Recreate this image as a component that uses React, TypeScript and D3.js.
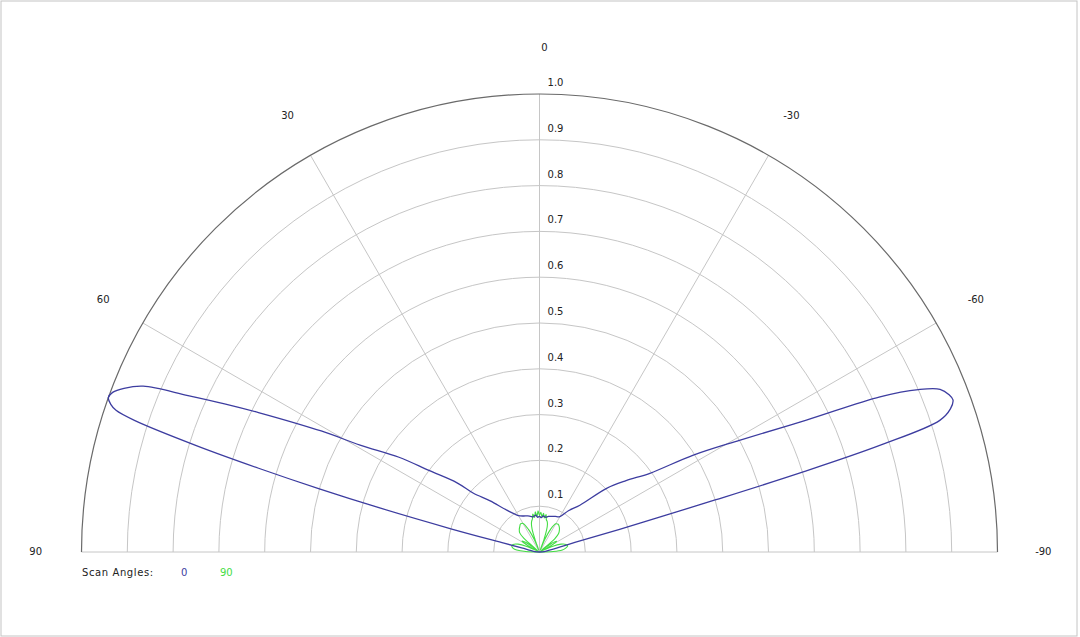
import * as d3 from "d3";
import React from "react";

// chart values
const ringValues = [0.1, 0.2, 0.3, 0.4, 0.5, 0.6, 0.7, 0.8, 0.9, 1.0];
const spokeAngles = [-60, -30, 0, 30, 60];
const angleLabels = [90, 60, 30, 0, -30, -60, -90];

// scan angle 0 (blue): angle in degrees (positive = left), normalised gain
const blueAngles = [90, 85, 80, 77, 76, 75.3, 74.6, 74, 73.4, 72.8, 72, 71.5, 71, 70.3, 69.5, 68.5, 67.3, 66, 64.8, 63.6, 61, 59.2, 56, 53.6, 50, 48.4, 44, 38, 30, 24, 18, 14, 10, 6, 3, 0,
    -3, -6, -10, -14, -18, -24, -30, -35, -40.8, -46.5, -50.5, -54.5, -57.8, -60.8, -63.7, -65.5, -66.8, -67.9, -69, -69.8, -70.8, -71.8, -72.6, -73.1, -73.5, -74, -74.8, -77, -80, -85, -90];
const blueValues = [0, 0.01, 0.02, 0.04, 0.08, 0.2, 0.36, 0.5, 0.64, 0.78, 0.93, 0.975, 0.99, 1.0, 0.995, 0.975, 0.938, 0.84, 0.76, 0.685, 0.545, 0.456, 0.37, 0.30, 0.235, 0.194, 0.155, 0.116, 0.092, 0.086, 0.083, 0.08, 0.078, 0.081, 0.076, 0.078,
    0.075, 0.079, 0.077, 0.08, 0.082, 0.085, 0.089, 0.11, 0.135, 0.202, 0.245, 0.296, 0.397, 0.50, 0.65, 0.817, 0.9, 0.944, 0.958, 0.962, 0.95, 0.92, 0.78, 0.6, 0.4, 0.23, 0.08, 0.04, 0.02, 0.01, 0];

// scan angle 90 (green)
const greenAngles = [90, 88, 85, 82, 78, 74, 70, 66, 63, 61, 58, 54, 51, 49, 46, 42, 38, 34, 30, 26, 23, 21, 19.5, 18, 16, 14, 12, 10, 8, 6, 4, 2, 0,
    -2, -4, -6, -8, -10, -12, -14, -16, -18, -19.5, -21, -23, -26, -30, -34, -38, -42, -46, -49, -51, -54, -58, -61, -63, -66, -70, -74, -78, -82, -85, -88, -90];
const greenValues = [0, 0.03, 0.05, 0.058, 0.062, 0.06, 0.05, 0.03, 0.004, 0.03, 0.045, 0.03, 0.005, 0.045, 0.06, 0.066, 0.07, 0.074, 0.072, 0.055, 0.03, 0.004, 0.03, 0.052, 0.064, 0.07, 0.074, 0.084, 0.076, 0.088, 0.078, 0.09, 0.08,
    0.087, 0.077, 0.085, 0.075, 0.083, 0.072, 0.069, 0.063, 0.05, 0.03, 0.004, 0.03, 0.055, 0.071, 0.073, 0.07, 0.065, 0.058, 0.044, 0.005, 0.03, 0.044, 0.03, 0.004, 0.03, 0.05, 0.06, 0.063, 0.057, 0.05, 0.03, 0];

const legendLabels = ["0", "90"];
const seriesColors = ["#3d3da0", "#44dd44"];

export default function App() {
    const fullwidth = 1080;
    const fullheight = 637;
    const cx = 539.5;
    const cy = 552;
    const R = 458;

    const rScale = d3.scaleLinear().domain([0, 1]).range([0, R]);
    const toRad = (deg: number) => (-deg * Math.PI) / 180;

    const line = d3.lineRadial<[number, number]>()
        .angle(d => toRad(d[0]))
        .radius(d => rScale(d[1]))
        .curve(d3.curveCatmullRom.alpha(0.5));

    const bluePts = blueAngles.map((a, i) => [a, blueValues[i]] as [number, number]);
    const greenPts = greenAngles.map((a, i) => [a, greenValues[i]] as [number, number]);

    function halfRing(r: number) {
        const p = d3.path();
        p.moveTo(-r, 0);
        p.arc(0, 0, r, Math.PI, 2 * Math.PI);
        return p.toString();
    }

    const font = "'DejaVu Sans', Verdana, sans-serif";

    return <svg width={fullwidth} height={fullheight} style={{ position: 'absolute', left: 0, top: 0, background: '#fff' }}>
        <rect x={1} y={1} width={fullwidth - 4} height={fullheight - 2} fill="#fff" stroke="#c4c4c4" />
        <g transform={`translate(${cx},${cy})`}>
            {ringValues.slice(0, -1).map(v =>
                <path key={v} d={halfRing(rScale(v))} fill="none" stroke="#c6c6c6" strokeWidth={1} />
            )}
            {spokeAngles.map(a =>
                <line key={a} x1={0} y1={0}
                    x2={rScale(1) * Math.sin(toRad(a))} y2={-rScale(1) * Math.cos(toRad(a))}
                    stroke="#c6c6c6" strokeWidth={1} />
            )}
            <line x1={-R} x2={R} y1={0} y2={0} stroke="#c6c6c6" />
            <path d={halfRing(rScale(1))} fill="none" stroke="#6a6a6a" strokeWidth={1.2} />
            {ringValues.map(v =>
                <text key={v} x={16} y={-rScale(v) - 11} fontFamily={font} fontSize={10}
                    textAnchor="middle" dominantBaseline="middle" fill="#222">{v.toFixed(1)}</text>
            )}
            {angleLabels.map(a =>
                <text key={a}
                    x={rScale(1.1) * Math.sin(toRad(a)) + (a === 0 ? 5 : 0)}
                    y={-rScale(1.1) * Math.cos(toRad(a))}
                    fontFamily={font} fontSize={10} textAnchor="middle" dominantBaseline="middle" fill="#222">{a}</text>
            )}
            <path d={line(greenPts) ?? ""} fill="none" stroke={seriesColors[1]} strokeWidth={1.1} />
            <path d={line(bluePts) ?? ""} fill="none" stroke={seriesColors[0]} strokeWidth={1.3} />
        </g>
        <text x={82} y={573} fontFamily={font} fontSize={10} letterSpacing={0.6} fill="#222" dominantBaseline="middle">Scan Angles:</text>
        {legendLabels.map((l, i) =>
            <text key={l} x={181 + i * 39} y={573} fontFamily={font} fontSize={10}
                fill={seriesColors[i]} dominantBaseline="middle">{l}</text>
        )}
    </svg>
}
